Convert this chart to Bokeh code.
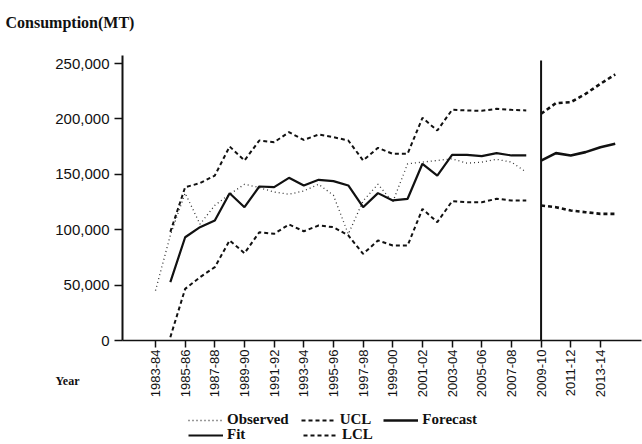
from math import pi
from bokeh.plotting import figure
from bokeh.models import (Range1d, FixedTicker, NumeralTickFormatter, Label,
                          Legend, LegendItem)
from bokeh.embed import file_html
from bokeh.resources import INLINE

# ---------------- data ----------------
periods = ["1983-84", "1984-85", "1985-86", "1986-87", "1987-88", "1988-89",
           "1989-90", "1990-91", "1991-92", "1992-93", "1993-94", "1994-95",
           "1995-96", "1996-97", "1997-98", "1998-99", "1999-00", "2000-01",
           "2001-02", "2002-03", "2003-04", "2004-05", "2005-06", "2006-07",
           "2007-08", "2008-09", "2009-10", "2010-11", "2011-12", "2012-13",
           "2013-14", "2014-15"]
tick_labels = ["1983-84", "1985-86", "1987-88", "1989-90", "1991-92", "1993-94",
               "1995-96", "1997-98", "1999-00", "2001-02", "2003-04", "2005-06",
               "2007-08", "2009-10", "2011-12", "2013-14"]
y_ticks = [0, 50000, 100000, 150000, 200000, 250000]

# observed 1983-84 .. 2008-09
observed = [45000, 95000, 133000, 105000, 122000, 132000, 141000, 138000, 134000,
            132000, 135000, 141000, 131000, 96000, 126000, 141000, 125000, 159500,
            161000, 162500, 164000, 160000, 161000, 163500, 161000, 152000]
# model fit and limits 1984-85 .. 2008-09
fit = [52600, 93200, 102300, 108300, 132900, 120300, 139000, 138400, 146800,
       139900, 145000, 143800, 139900, 120300, 133000, 126400, 127900, 159500,
       148900, 167600, 167600, 166400, 169100, 167000, 167000]
ucl = [98000, 138400, 142000, 148900, 175100, 162500, 180500, 179000, 188000,
       181000, 185900, 183500, 180500, 162500, 173900, 168500, 168500, 201000,
       189500, 208200, 207600, 207300, 209100, 208200, 207600]
lcl = [3000, 46600, 57100, 66200, 90300, 78800, 97700, 96300, 104700, 98600,
       103800, 102300, 94800, 78200, 90300, 85700, 85700, 118800, 106800, 125700,
       124800, 124800, 127900, 126400, 126400]
# forecast 2009-10 .. 2014-15
forecast_start = "2009-10"
forecast = [162400, 169100, 167000, 170000, 174500, 177500]
forecast_ucl = [204600, 214200, 215100, 222600, 231700, 240100]
forecast_lcl = [121800, 120300, 117300, 115800, 114300, 114300]

hist_x = list(range(len(observed)))
model_x = hist_x[len(observed) - len(fit):]
f0 = periods.index(forecast_start)
fc_x = list(range(f0, f0 + len(forecast)))

# ---------------- layout (pixels of the 642x444 canvas) ----------------
W, H = 642, 444
X0_PX, X_STEP = 155.0, 14.83          # screen x of the first period, px per period
Y0_PX, Y_PER_PX = 340.0, 50000 / 55.4  # screen y of value 0, value per px
AXIS_LEFT_PX, AXIS_TOP_PX, AXIS_RIGHT_PX = 122, 55, 641
SPAN_TOP_PX = 60

def px_to_x(px):
    return (px - X0_PX) / X_STEP

def py_to_y(py):
    return (Y0_PX - py) * Y_PER_PX

SERIF = "Liberation Serif"
SANS = "Liberation Sans"
INK = "#111111"

p = figure(width=W, height=H, output_backend="svg", toolbar_location=None,
           x_range=Range1d(px_to_x(0), px_to_x(W)),
           y_range=Range1d(py_to_y(H), py_to_y(0)),
           min_border=0)
p.outline_line_color = None
p.xgrid.visible = False
p.ygrid.visible = False

# axes, pinned inside the frame
xa = p.xaxis[0]
xa.fixed_location = 0
xa.bounds = (px_to_x(AXIS_LEFT_PX), px_to_x(AXIS_RIGHT_PX))
xa.ticker = FixedTicker(ticks=[periods.index(t) for t in tick_labels])
xa.major_label_overrides = {periods.index(t): t for t in tick_labels}
xa.major_label_orientation = pi / 2
xa.major_label_text_font = SANS
xa.major_label_text_font_size = "13px"
xa.major_label_text_color = INK
xa.major_label_standoff = 2
xa.major_tick_in = 0
xa.major_tick_out = 7
xa.minor_tick_out = 0
xa.minor_tick_in = 0
xa.axis_line_width = 1.5
xa.axis_line_color = INK
xa.major_tick_line_color = INK
xa.major_tick_line_width = 1.5

ya = p.yaxis[0]
ya.fixed_location = px_to_x(AXIS_LEFT_PX)
ya.bounds = (0, py_to_y(AXIS_TOP_PX))
ya.ticker = FixedTicker(ticks=y_ticks)
ya.formatter = NumeralTickFormatter(format="0,0")
ya.major_label_text_font = SANS
ya.major_label_text_font_size = "15px"
ya.major_label_text_color = INK
ya.major_label_standoff = 5
ya.major_tick_in = 0
ya.major_tick_out = 8
ya.minor_tick_out = 0
ya.minor_tick_in = 0
ya.axis_line_width = 2
ya.axis_line_color = INK
ya.major_tick_line_color = INK
ya.major_tick_line_width = 1.5

# series
r_obs = p.line(hist_x, observed, line_color="#333333", line_width=1.3, line_dash="1 3")
r_fit = p.line(model_x, fit, line_color=INK, line_width=2.2)
r_ucl = p.line(model_x, ucl, line_color=INK, line_width=2, line_dash="4 3")
r_lcl = p.line(model_x, lcl, line_color=INK, line_width=2, line_dash="4 3")
r_fc = p.line(fc_x, forecast, line_color=INK, line_width=2.6)
r_fucl = p.line(fc_x, forecast_ucl, line_color=INK, line_width=2.6, line_dash="4 3")
r_flcl = p.line(fc_x, forecast_lcl, line_color=INK, line_width=2.6, line_dash="4 3")

# vertical divider at the forecast start
p.segment(x0=[f0], y0=[0], x1=[f0], y1=[py_to_y(SPAN_TOP_PX)],
          line_color=INK, line_width=2)

# texts (screen units from the canvas bottom-left)
p.add_layout(Label(x=5, y=H - 22, x_units="screen", y_units="screen",
                   text="Consumption(MT)", text_font=SERIF, text_font_style="bold",
                   text_font_size="16px", text_baseline="middle", text_color=INK))
p.add_layout(Label(x=55, y=H - 380, x_units="screen", y_units="screen",
                   text="Year", text_font=SERIF, text_font_style="bold",
                   text_font_size="12px", text_baseline="middle", text_color=INK))

# legend (two rows)
def make_legend(items, label_width, y):
    return Legend(items=items, orientation="horizontal", location=(188, y),
                  glyph_width=35, glyph_height=12, label_height=12,
                  label_width=label_width, label_standoff=4, spacing=12,
                  padding=2, margin=0, border_line_color=None,
                  background_fill_alpha=0, label_text_font=SERIF,
                  label_text_font_style="bold", label_text_font_size="15px",
                  label_text_color=INK)

leg1 = make_legend([LegendItem(label="Observed", renderers=[r_obs]),
                    LegendItem(label="UCL", renderers=[r_ucl]),
                    LegendItem(label="Forecast", renderers=[r_fc])], 20, 16)
leg2 = make_legend([LegendItem(label="Fit", renderers=[r_fit]),
                    LegendItem(label="LCL", renderers=[r_lcl])], 64, 1)
p.add_layout(leg1)
p.add_layout(leg2)

open("out.html", "w").write(file_html(p, INLINE))
